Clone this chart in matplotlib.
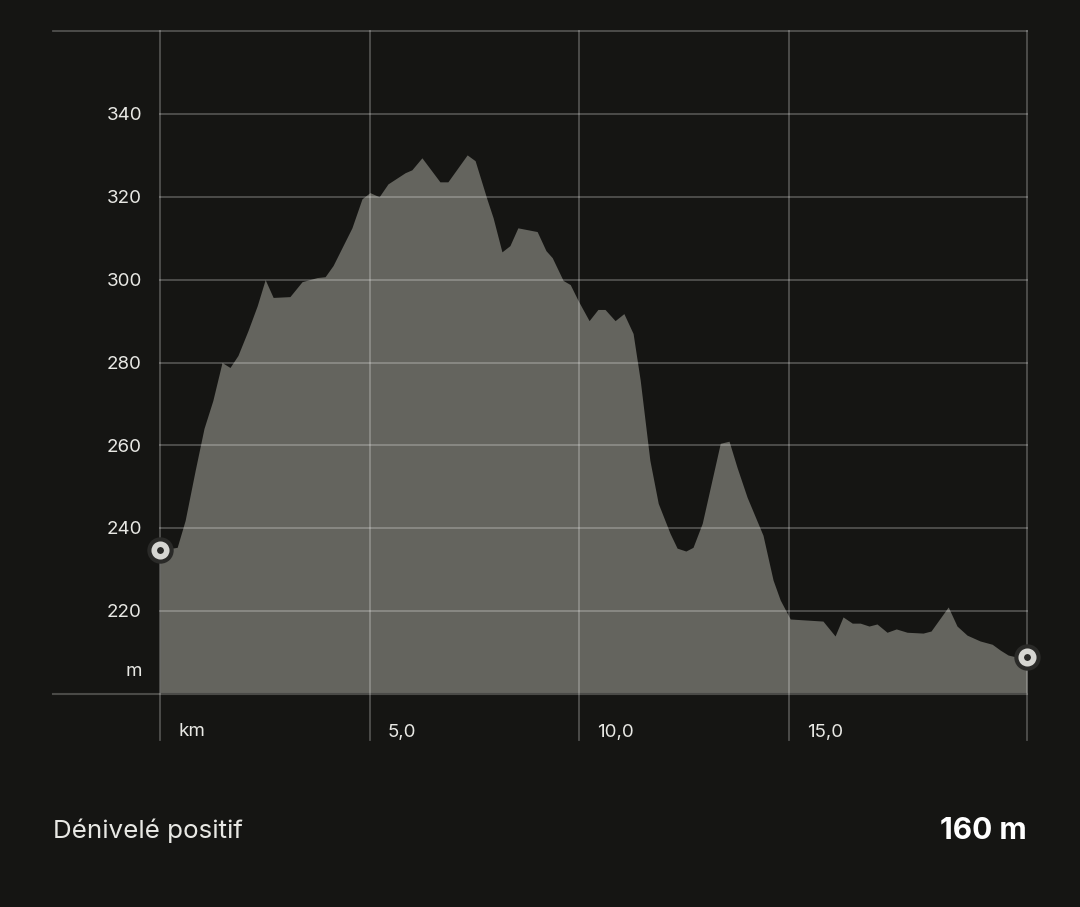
import matplotlib.pyplot as plt

# --- elevation profile ---
dist_km = [0.00, 0.41, 0.60, 0.84, 1.05, 1.26, 1.48, 1.67, 1.86, 2.10, 2.32, 2.51,
           2.70, 3.10, 3.39, 3.75, 3.94, 4.13, 4.58, 4.82, 5.01, 5.23, 5.44, 5.85,
           6.01, 6.25, 6.68, 6.87, 7.33, 7.52, 7.80, 7.95, 8.16, 8.35, 8.54, 9.00,
           9.21, 9.36, 9.62, 9.79, 9.98, 10.24, 10.45, 10.62, 10.86, 11.07, 11.29,
           11.46, 11.69, 11.89, 12.17, 12.34, 12.55, 12.72, 12.94, 13.37, 13.58,
           13.77, 14.01, 14.39, 14.63, 14.80, 15.04, 15.82, 16.11, 16.30, 16.52,
           16.71, 16.92, 17.11, 17.35, 17.57, 17.83, 18.21, 18.40, 18.81, 19.02,
           19.26, 19.57, 19.86, 20.05, 20.24, 20.45, 20.69]
elev_m = [234.7, 235.4, 241.9, 254.0, 264.1, 270.8, 280.0, 278.8, 281.7, 287.7, 293.7, 300.0,
          295.7, 295.9, 299.5, 300.5, 300.7, 303.4, 312.5, 319.5, 321.0, 320.0, 323.1, 325.8,
          326.5, 329.4, 323.6, 323.6, 330.1, 328.7, 319.5, 314.9, 306.7, 308.2, 312.5, 311.6,
          307.0, 305.3, 299.8, 298.8, 294.9, 290.1, 292.8, 292.8, 290.1, 291.8, 287.0,
          275.7, 256.4, 246.0, 238.8, 235.2, 234.5, 235.4, 241.2, 260.5, 261.0,
          254.7, 247.5, 238.3, 227.5, 222.7, 218.1, 217.6, 214.0, 218.6, 217.1,
          217.1, 216.4, 216.9, 214.9, 215.7, 214.9, 214.7, 215.2, 221.0, 216.4,
          214.2, 212.8, 212.0, 210.6, 209.4, 208.9, 208.9]

y_ticks = [220, 240, 260, 280, 300, 320, 340]
x_ticks = [0, 5, 10, 15]
x_labels = ["km", "5,0", "10,0", "15,0"]
gain_label = "Dénivelé positif"
gain_value = "160 m"

BG = "#151513"
FILL = "#64645e"
TXT = "#e8e8e4"

W, H = 1080, 907
fig = plt.figure(figsize=(W / 100, H / 100), dpi=100, facecolor=BG)
left, right, top, bottom = 160, 1027, 31, 694
ax = fig.add_axes([left / W, 1 - bottom / H, (right - left) / W, (bottom - top) / H])
ax.set_facecolor(BG)
plt.rcParams['font.family'] = ['Inter', 'DejaVu Sans']

x_max = dist_km[-1]
ax.set_xlim(0, x_max)
ax.set_ylim(200, 360)
for s in ax.spines.values():
    s.set_visible(False)
ax.set_xticks([])
ax.set_yticks([])

ax.fill_between(dist_km, elev_m, 200, color=FILL, lw=0, zorder=1)

# grid, drawn over the fill with transparency
gx0 = (53 - left) / (right - left)
gy0 = (bottom - 740) / (bottom - top)
grid_kw = dict(color="white", alpha=0.25, lw=1.3, clip_on=False, zorder=2)
for v in y_ticks:
    yv = (v - 200) / 160
    ax.plot([0, 1], [yv, yv], transform=ax.transAxes, **grid_kw)
ax.plot([gx0, 1], [1, 1], transform=ax.transAxes, **grid_kw)
ax.plot([gx0, 1], [0, 0], transform=ax.transAxes, color="#4a4a47", lw=1.5,
        clip_on=False, zorder=2)
for v in x_ticks + [x_max]:
    xv = v / x_max
    ax.plot([xv, xv], [gy0, 1], transform=ax.transAxes, **grid_kw)

# tick labels
for v in y_ticks:
    ax.text(-18 / (right - left), v - 0.4, str(v), transform=ax.get_yaxis_transform(),
            ha="right", va="center", color=TXT, fontsize=13.5)
ax.text(-18 / (right - left), 205.4, "m", transform=ax.get_yaxis_transform(),
        ha="right", va="center", color=TXT, fontsize=13.5)
for v, lab in zip(x_ticks, x_labels):
    ax.text(v + 18 / 41.9, -(732 - bottom) / (bottom - top), lab,
            transform=ax.get_xaxis_transform(), ha="left", va="center",
            color=TXT, fontsize=13.5)

# start / end markers
for xv, yv in [(dist_km[0], elev_m[0]), (dist_km[-1], elev_m[-1])]:
    ax.plot(xv, yv, 'o', ms=19, color="#2a2a28", mec="none", clip_on=False, zorder=5)
    ax.plot(xv, yv, 'o', ms=9, color="#2a2a28", mec="#d6d6d2", mew=4,
            clip_on=False, zorder=6)

fig.text(53 / W, 1 - 831 / H, gain_label, ha="left", va="center", color=TXT,
         fontsize=18.7)
fig.text(1027 / W, 1 - 831 / H, gain_value, ha="right", va="center", color="white",
         fontsize=21.5, fontweight="bold")

fig.savefig("out.png", dpi=100, facecolor=BG)
